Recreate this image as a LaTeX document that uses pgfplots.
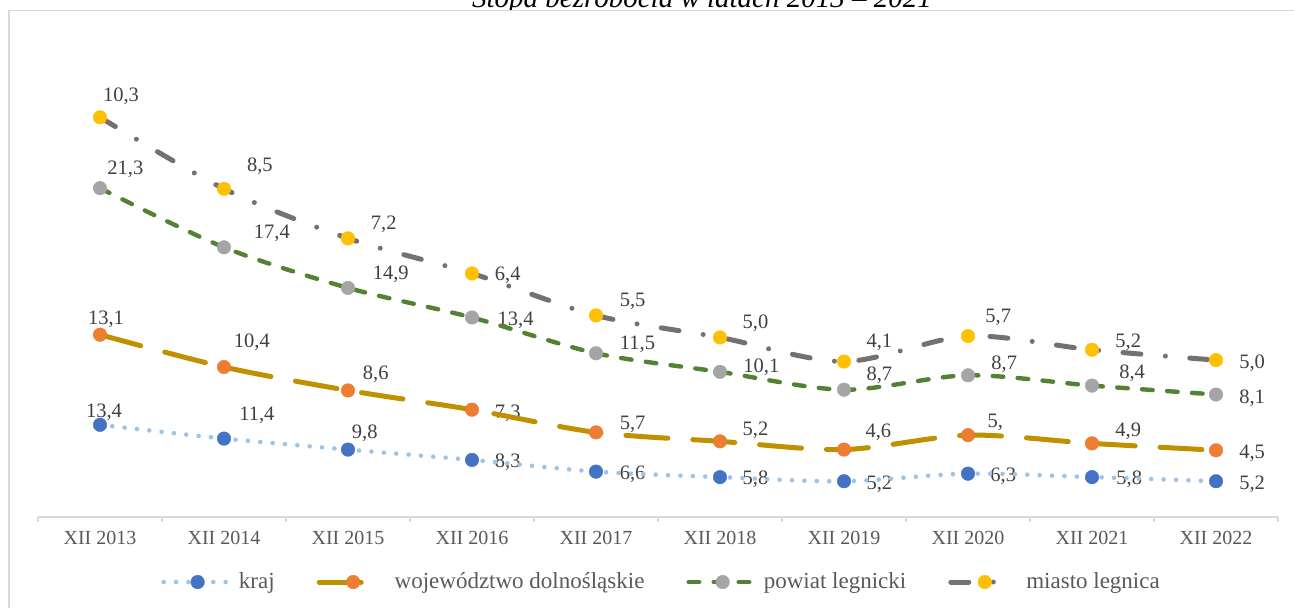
\documentclass[border=0pt]{standalone}
\usepackage{pgfplots}
\pgfplotsset{compat=1.18}
\usepackage{fontspec}
\setmainfont{Liberation Serif}
\definecolor{krajL}{HTML}{9DC3E6}
\definecolor{krajM}{HTML}{4472C4}
\definecolor{wojL}{HTML}{BF9000}
\definecolor{wojM}{HTML}{ED7D31}
\definecolor{powL}{HTML}{548235}
\definecolor{powM}{HTML}{A5A5A5}
\definecolor{miaL}{HTML}{767171}
\definecolor{miaM}{HTML}{FFC000}
\definecolor{axisgray}{HTML}{D9D9D9}
\definecolor{tickc}{HTML}{595959}
\definecolor{lblc}{HTML}{404040}
\tikzset{lbl/.style={font=\fontsize{10.25}{12}\selectfont, text=lblc, anchor=center, yshift=-0.7pt, inner sep=0pt}}
\newcommand{\lb}[3]{\node[lbl] at (axis cs:#1,#2) {#3};}
\begin{document}
\begin{tikzpicture}
% chart border (clipped by page on right and bottom)
\draw[axisgray, line width=0.8pt] (4.5pt,-20pt) -- (4.5pt,298.25pt) -- (700pt,298.25pt);
% title, only its lower part is visible
\begin{scope}
\clip (0pt,298.6pt) rectangle (647pt,330pt);
\node[anchor=base, font=\fontsize{14.5}{17}\selectfont\itshape, inner sep=0pt] at (351pt,299.6pt) {Stopa bezrobocia w latach 2013 – 2021};
\end{scope}
\begin{axis}[
  at={(19pt,45pt)}, anchor=south west,
  scale only axis, width=620pt, height=240.8pt,
  xmin=-0.5, xmax=9.5, ymin=0, ymax=70,
  stack plots=y,
  clip=false,
  axis x line=bottom, axis y line=none,
  x axis line style={-, draw=axisgray, line width=0.8pt},
  xtick={0,1,2,3,4,5,6,7,8,9},
  xticklabels={XII 2013,XII 2014,XII 2015,XII 2016,XII 2017,XII 2018,XII 2019,XII 2020,XII 2021,XII 2022},
  major tick length=0pt,
  minor xtick={-0.5,0.5,1.5,2.5,3.5,4.5,5.5,6.5,7.5,8.5,9.5},
  minor tick length=2.5pt,
  tick align=outside,
  minor x tick style={draw=axisgray, line width=0.8pt},
  xticklabel style={font=\fontsize{10}{12}\selectfont, text=tickc, anchor=center, yshift=-10.5pt, inner sep=0pt},
  legend image code/.code={\draw[mark repeat=2,mark phase=2,#1] plot coordinates {(0pt,0pt) (17pt,0pt) (33pt,0pt)};},
  legend style={at={(0.5037,-0.135)}, anchor=center, draw=none, fill=none,
    font=\fontsize{11.5}{14}\selectfont, text=tickc,
    /tikz/every odd column/.append style={column sep=1.5pt},
    /tikz/every even column/.append style={column sep=19pt}},
  legend columns=4, legend cell align=left,
]
\addplot[krajL, line width=2.3pt, line cap=round, dash pattern=on 0pt off 6.2pt, smooth, tension=0.5,
  mark=*, mark size=3.4pt, mark options={solid, line width=0.2pt, draw=krajM, fill=krajM}]
  coordinates {(0,13.4) (1,11.4) (2,9.8) (3,8.3) (4,6.6) (5,5.8) (6,5.2) (7,6.3) (8,5.8) (9,5.2)};
\addlegendentry{kraj}
\addplot[wojL, line width=2.5pt, line cap=round, dash pattern=on 21pt off 12.5pt, smooth, tension=0.5,
  mark=*, mark size=3.4pt, mark options={solid, line width=0.2pt, draw=wojM, fill=wojM}]
  coordinates {(0,13.1) (1,10.4) (2,8.6) (3,7.3) (4,5.7) (5,5.2) (6,4.6) (7,5.6) (8,4.9) (9,4.5)};
\addlegendentry{województwo dolnośląskie}
\addplot[powL, line width=2.2pt, line cap=round, dash pattern=on 5.3pt off 7.2pt, smooth, tension=0.5,
  mark=*, mark size=3.4pt, mark options={solid, line width=0.2pt, draw=powM, fill=powM}]
  coordinates {(0,21.3) (1,17.4) (2,14.9) (3,13.4) (4,11.5) (5,10.1) (6,8.7) (7,8.7) (8,8.4) (9,8.1)};
\addlegendentry{powiat legnicki\hspace{11.5pt}}
\addplot[miaL, line width=2.5pt, line cap=round, dash pattern=on 9pt off 12.25pt on 0pt off 12.25pt, smooth, tension=0.5,
  mark=*, mark size=3.4pt, mark options={solid, line width=0.2pt, draw=miaM, fill=miaM}]
  coordinates {(0,10.3) (1,8.5) (2,7.2) (3,6.4) (4,5.5) (5,5.0) (6,4.1) (7,5.7) (8,5.2) (9,5.0)};
\addlegendentry{miasto legnica}
% data labels
\lb{0.169}{61.34}{10,3}
\lb{0.205}{50.80}{21,3}
\lb{0.048}{28.92}{13,1}
\lb{0.032}{15.41}{13,4}
\lb{1.289}{51.24}{8,5}
\lb{1.386}{41.42}{17,4}
\lb{1.225}{25.58}{10,4}
\lb{1.265}{14.97}{11,4}
\lb{2.288}{42.73}{7,2}
\lb{2.345}{35.47}{14,9}
\lb{2.224}{20.93}{8,6}
\lb{2.135}{12.35}{9,8}
\lb{3.288}{35.32}{6,4}
\lb{3.352}{28.78}{13,4}
\lb{3.288}{15.26}{7,3}
\lb{3.288}{8.14}{8,3}
\lb{4.295}{31.54}{5,5}
\lb{4.335}{25.29}{11,5}
\lb{4.295}{13.66}{5,7}
\lb{4.295}{6.40}{6,6}
\lb{5.286}{28.34}{5,0}
\lb{5.334}{21.95}{10,1}
\lb{5.286}{12.79}{5,2}
\lb{5.286}{5.67}{5,8}
\lb{6.285}{25.58}{4,1}
\lb{6.285}{20.78}{8,7}
\lb{6.277}{12.50}{4,6}
\lb{6.285}{4.94}{5,2}
\lb{7.244}{29.22}{5,7}
\lb{7.292}{22.38}{8,7}
\lb{7.220}{13.95}{5,}
\lb{7.284}{6.10}{6,3}
\lb{8.292}{25.58}{5,2}
\lb{8.324}{21.08}{8,4}
\lb{8.292}{12.65}{4,9}
\lb{8.300}{5.67}{5,8}
\lb{9.291}{22.53}{5,0}
\lb{9.291}{17.44}{8,1}
\lb{9.291}{9.45}{4,5}
\lb{9.291}{4.94}{5,2}
\end{axis}
\pgfresetboundingbox
\useasboundingbox (0pt,0pt) rectangle (647pt,303.5pt);
\end{tikzpicture}
\end{document}
